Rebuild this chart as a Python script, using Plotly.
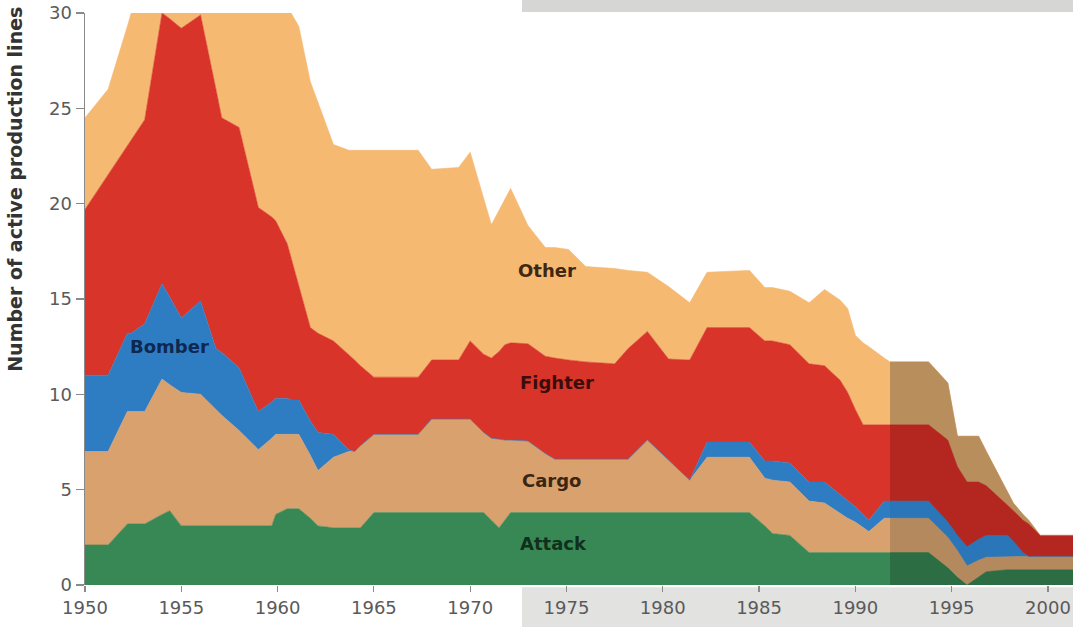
import plotly.graph_objects as go

# ---- data ----
years = [1950.0, 1951.2, 1952.2, 1952.4, 1953.1, 1954.0, 1954.4, 1955.0, 1956.0, 1956.8,
         1957.1, 1958.0, 1959.0, 1959.7, 1959.9, 1960.5, 1960.7, 1961.1, 1961.7, 1962.1,
         1962.9, 1963.7, 1964.0, 1964.3, 1965.0, 1967.3, 1968.0, 1969.4, 1970.0, 1970.7,
         1971.1, 1971.5, 1971.8, 1972.1, 1973.0, 1973.9, 1974.4, 1975.1, 1976.0, 1977.5,
         1978.2, 1979.2, 1980.3, 1981.4, 1982.3, 1984.5, 1985.3, 1985.7, 1986.6, 1987.6,
         1988.4, 1989.2, 1989.6, 1990.0, 1990.4, 1990.7, 1991.5, 1991.8, 1993.8, 1994.8,
         1995.3, 1995.8, 1996.4, 1996.8, 1997.9, 1998.2, 1998.7, 1999.0, 1999.6, 2001.3]

attack = [2.1, 2.1, 3.2, 3.2, 3.2, 3.7, 3.9, 3.1, 3.1, 3.1, 3.1, 3.1, 3.1,
          3.1, 3.7, 4.0, 4.0, 4.0, 3.5, 3.1, 3.0, 3.0, 3.0, 3.0,
          3.8, 3.8, 3.8, 3.8, 3.8, 3.8, 3.4, 3.0, 3.4, 3.8,
          3.8, 3.8, 3.8, 3.8, 3.8, 3.8, 3.8, 3.8, 3.8, 3.8,
          3.8, 3.8, 3.1, 2.7, 2.6, 1.7, 1.7, 1.7, 1.7, 1.7,
          1.7, 1.7, 1.7, 1.7, 1.7, 0.9, 0.4, 0.0, 0.4, 0.7,
          0.8, 0.8, 0.8, 0.8, 0.8, 0.8]

cargo = [4.9, 4.9, 5.9, 5.9, 5.9, 7.1, 6.6, 7.0, 6.9, 6.1, 5.8, 5.0, 4.0,
         4.6, 4.2, 3.9, 3.9, 3.9, 3.3, 2.9, 3.7, 4.0, 4.0, 4.3,
         4.1, 4.1, 4.9, 4.9, 4.9, 4.2, 4.3, 4.65, 4.2, 3.8,
         3.75, 3.1, 2.8, 2.8, 2.8, 2.8, 2.8, 3.8, 2.75, 1.7,
         2.9, 2.9, 2.5, 2.8, 2.8, 2.7, 2.6, 2.05, 1.8, 1.6,
         1.3, 1.1, 1.8, 1.8, 1.8, 1.6, 1.4, 1.0, 0.9, 0.75,
         0.7, 0.7, 0.7, 0.7, 0.7, 0.7]

bomber = [4.0, 4.0, 4.1, 4.1, 4.6, 5.0, 4.6, 3.9, 4.9, 3.2, 3.3, 3.3, 2.0,
          1.9, 1.9, 1.9, 1.8, 1.8, 1.8, 2.0, 1.2, 0.1, 0.0, 0.0,
          0, 0, 0, 0, 0, 0, 0, 0, 0, 0,
          0, 0, 0, 0, 0, 0, 0, 0, 0, 0,
          0.8, 0.8, 0.9, 1.0, 1.0, 1.0, 1.1, 1.0, 0.9, 0.8,
          0.7, 0.6, 0.9, 0.9, 0.9, 0.8, 0.8, 1.0, 1.1, 1.15,
          1.1, 0.8, 0.2, 0.0, 0.0, 0.0]

fighter = [8.7, 10.5, 9.8, 10.1, 10.7, 14.2, 14.6, 15.2, 15.0, 13.6, 12.3, 12.6, 10.7,
           9.7, 9.3, 8.1, 7.5, 6.0, 4.9, 5.2, 4.9, 5.0, 4.8, 4.2,
           3.0, 3.0, 3.1, 3.1, 4.1, 4.1, 4.2, 4.6, 5.0, 5.1,
           5.1, 5.1, 5.3, 5.2, 5.1, 5.0, 5.8, 5.7, 5.3, 6.3,
           6.0, 6.0, 6.3, 6.3, 6.2, 6.2, 6.1, 6.0, 5.7, 5.1,
           4.7, 5.0, 4.0, 4.0, 4.0, 4.3, 3.6, 3.4, 3.0, 2.6,
           1.6, 1.6, 1.7, 1.7, 1.1, 1.1]

other = [4.8, 4.5, 6.3, 6.7, 5.6, 0.0, 0.3, 0.8, 0.1, 4.0, 5.5, 6.0, 10.2,
         10.7, 10.9, 12.1, 12.8, 13.6, 12.9, 12.1, 10.3, 10.7, 11.0, 11.3,
         11.9, 11.9, 10.0, 10.1, 9.9, 8.2, 7.0, 7.4, 7.6, 8.1,
         6.2, 5.7, 5.8, 5.8, 5.0, 5.0, 4.1, 3.1, 3.8, 3.0,
         2.9, 3.0, 2.8, 2.8, 2.8, 3.2, 4.0, 4.2, 4.4, 3.9,
         4.3, 4.1, 3.5, 3.3, 3.3, 3.0, 1.6, 2.4, 2.4, 1.8,
         0.7, 0.4, 0.3, 0.2, 0.0, 0.0]

series_names = ["Attack", "Cargo", "Bomber", "Fighter", "Other"]
tick_years = [1950, 1955, 1960, 1965, 1970, 1975, 1980, 1985, 1990, 1995, 2000]
tick_values = [0, 5, 10, 15, 20, 25, 30]
shade_start = 1991.8

colors = {"Attack": "#388855", "Cargo": "#d9a16d", "Bomber": "#2e7dc3",
          "Fighter": "#d8342a", "Other": "#f5b972"}
shade_colors = {"Attack": "#2d6d43", "Cargo": "#b5895e", "Bomber": "#2b76b8",
                "Fighter": "#b42720", "Other": "#b88e5c"}
label_colors = {"Attack": "#10301c", "Cargo": "#3a2614", "Bomber": "#0e2850",
                "Fighter": "#3a0c0a", "Other": "#3f2712"}
label_pos = {"Attack": (1974.3, 2.2), "Cargo": (1974.2, 5.5), "Bomber": (1954.4, 12.5),
             "Fighter": (1974.5, 10.6), "Other": (1974.0, 16.5)}

values = {"Attack": attack, "Cargo": cargo, "Bomber": bomber,
          "Fighter": fighter, "Other": other}

fig = go.Figure()
for name in series_names:
    c = colors[name]
    fig.add_trace(go.Scatter(x=years, y=values[name], mode="lines", stackgroup="main",
                             line=dict(width=0.6, color=c), fillcolor=c,
                             name=name, hoverinfo="skip"))

i0 = years.index(shade_start)
for name in series_names:
    c = shade_colors[name]
    fig.add_trace(go.Scatter(x=years[i0:], y=values[name][i0:], mode="lines",
                             stackgroup="shade", line=dict(width=0.6, color=c),
                             fillcolor=c, name=name, hoverinfo="skip"))

annotations = []
for name in series_names:
    x, y = label_pos[name]
    annotations.append(dict(x=x, y=y, xref="x", yref="y", text=name, showarrow=False,
                            font=dict(family="DejaVu Sans", size=18, color=label_colors[name],
                                      weight="bold")))
annotations.append(dict(x=-0.0708, y=0.691, xref="paper", yref="paper",
                        text="Number of active production lines", textangle=-90,
                        showarrow=False, xanchor="center", yanchor="middle",
                        font=dict(family="DejaVu Sans", size=19, color="#333333",
                                  weight="bold")))

shapes = [
    dict(type="rect", xref="paper", yref="paper", x0=0.4423, x1=1.0, y0=1.0017, y1=1.03,
         fillcolor="#d6d6d4", line=dict(width=0), layer="below"),
    dict(type="rect", xref="paper", yref="paper", x0=0.4423, x1=1.0, y0=-0.08, y1=-0.004,
         fillcolor="#e2e2e0", line=dict(width=0), layer="below"),
]

fig.update_layout(
    width=1073, height=627,
    margin=dict(l=85, r=0, t=13, b=42),
    paper_bgcolor="white", plot_bgcolor="rgba(0,0,0,0)",
    showlegend=False, hovermode=False,
    annotations=annotations, shapes=shapes,
    font=dict(family="DejaVu Sans", color="#5a5a5a"),
    xaxis=dict(range=[1950, 2001.3], tickvals=tick_years, ticks="outside", ticklen=6,
               tickwidth=1.2, tickcolor="#8a8a8a", showgrid=False, zeroline=False,
               showline=False, tickfont=dict(size=18, color="#5a5a5a",
                                             family="DejaVu Sans")),
    yaxis=dict(range=[0, 30], tickvals=tick_values, ticks="outside", ticklen=8,
               tickwidth=1.2, tickcolor="#8a8a8a", showgrid=False, zeroline=False,
               showline=True, linecolor="#8a8a8a", linewidth=1.5,
               tickfont=dict(size=18, color="#5a5a5a", family="DejaVu Sans")),
)

# remove the browser's default 8px page margin so the figure fills the window exactly
fig.write_html("out.html",
               config={"displayModeBar": False, "staticPlot": True},
               post_script="document.body.style.margin='0px';document.body.style.overflow='hidden';")
